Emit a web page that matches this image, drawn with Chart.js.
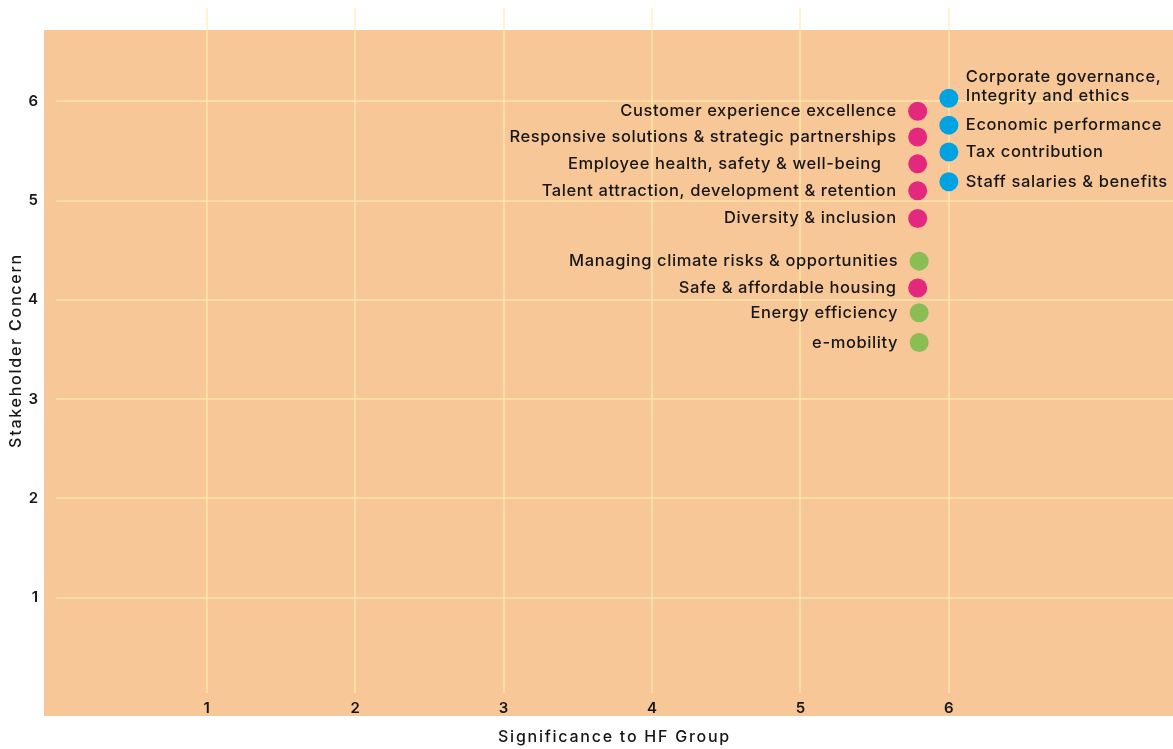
<!DOCTYPE html>
<html>
<head>
<meta charset="utf-8">
<script src="https://cdn.jsdelivr.net/npm/chart.js@4.4.0/dist/chart.umd.min.js"></script>
<style>
  html, body { margin: 0; padding: 0; background: #ffffff; }
  #wrap { width: 1173px; height: 749px; position: relative; }
</style>
</head>
<body>
<div id="wrap"><canvas id="c" width="1173" height="749"></canvas></div>
<script>
// ---- data ----
const socialLabels = [
  "Customer experience excellence",
  "Responsive solutions & strategic partnerships",
  "Employee health, safety & well-being   ",
  "Talent attraction, development & retention",
  "Diversity & inclusion",
  "Safe & affordable housing"
];
const socialX = [5.79, 5.79, 5.79, 5.79, 5.79, 5.79];
const socialY = [5.90, 5.64, 5.37, 5.10, 4.82, 4.12];

const envLabels = [
  "Managing climate risks & opportunities",
  "Energy efficiency",
  "e-mobility"
];
const envX = [5.80, 5.80, 5.80];
const envY = [4.39, 3.87, 3.57];

const govLabels = [
  ["Corporate governance,", "Integrity and ethics"],
  "Economic performance",
  "Tax contribution",
  "Staff salaries & benefits"
];
const govX = [6.0, 6.0, 6.0, 6.0];
const govY = [6.03, 5.76, 5.49, 5.19];

const tickValues = [1, 2, 3, 4, 5, 6];
const xTitle = "Significance to HF Group";
const yTitle = "Stakeholder Concern";

// ---- build ----
const toPts = (xs, ys) => xs.map((x, i) => ({ x: x, y: ys[i] }));
const FONT = "Inter, 'Open Sans', sans-serif";
const TEXT = "#161616";
const GRID = "rgba(255,236,170,0.6)";

const bgPlugin = {
  id: 'bg',
  beforeDraw(chart) {
    const { ctx, chartArea } = chart;
    ctx.save();
    ctx.fillStyle = "#F7C797";
    const x0 = chartArea.left - 12, y0 = chartArea.top + 22;
    ctx.fillRect(x0, y0, chart.width - x0, (chartArea.bottom + 23) - y0);
    ctx.restore();
  }
};

const labelPlugin = {
  id: 'pointLabels',
  afterDatasetsDraw(chart) {
    const { ctx, chartArea } = chart;
    ctx.save();
    ctx.font = "500 16.5px " + FONT;
    ctx.letterSpacing = "0.6px";
    ctx.fillStyle = TEXT;
    ctx.textBaseline = 'middle';
    chart.data.datasets.forEach((ds, di) => {
      const meta = chart.getDatasetMeta(di);
      meta.data.forEach((el, i) => {
        const lab = ds.pointText[i];
        if (ds.labelSide === 'left') {
          ctx.textAlign = 'right';
          ctx.fillText(lab, el.x - 21, el.y);
        } else {
          ctx.textAlign = 'left';
          if (Array.isArray(lab)) {
            const lh = 19;
            const base = el.y - 11.5 - (lab.length - 1) * lh / 2;
            lab.forEach((l, k) => ctx.fillText(l, el.x + 17, base + k * lh));
          } else {
            ctx.fillText(lab, el.x + 17, el.y);
          }
        }
      });
    });
    // axis titles
    ctx.font = "500 16px " + FONT;
    ctx.letterSpacing = "1.75px";
    ctx.textAlign = 'center';
    ctx.fillText(xTitle, (chartArea.left + chartArea.right) / 2, chart.height - 12);
    ctx.translate(16, (chartArea.top + chartArea.bottom) / 2);
    ctx.rotate(-Math.PI / 2);
    ctx.fillText(yTitle, 0, 0);
    ctx.restore();
  }
};

const keepTicks = (scale) => {
  scale.ticks = tickValues.map(v => ({ value: v }));
};

new Chart(document.getElementById('c'), {
  type: 'scatter',
  data: {
    datasets: [
      { data: toPts(socialX, socialY), pointText: socialLabels, labelSide: 'left',
        backgroundColor: '#E4287E', borderWidth: 0, pointRadius: 9.5, pointHoverRadius: 9.5 },
      { data: toPts(envX, envY), pointText: envLabels, labelSide: 'left',
        backgroundColor: '#8BBD55', borderWidth: 0, pointRadius: 9.5, pointHoverRadius: 9.5 },
      { data: toPts(govX, govY), pointText: govLabels, labelSide: 'right',
        backgroundColor: '#00A3E2', borderWidth: 0, pointRadius: 9.5, pointHoverRadius: 9.5 }
    ]
  },
  options: {
    responsive: false,
    animation: false,
    devicePixelRatio: 1,
    layout: { autoPadding: false, padding: { top: 8, right: 0, left: 0, bottom: 0 } },
    plugins: { legend: { display: false }, tooltip: { enabled: false } },
    scales: {
      x: {
        type: 'linear', min: -0.015, max: 7.51,
        afterBuildTicks: keepTicks,
        afterFit: (s) => { s.height = 56; s.paddingLeft = 0; s.paddingRight = 0; },
        grid: { color: GRID, lineWidth: 2, drawTicks: false },
        border: { display: false },
        ticks: { padding: 6, color: TEXT, font: { family: FONT, size: 15, weight: '600' }, maxRotation: 0 },
        title: { display: false }
      },
      y: {
        type: 'linear', min: 0.04, max: 6.94,
        afterBuildTicks: keepTicks,
        afterFit: (s) => { s.width = 56; s.paddingTop = 0; s.paddingBottom = 0; },
        grid: { color: GRID, lineWidth: 2, drawTicks: false },
        border: { display: false },
        ticks: { padding: 18, color: TEXT, font: { family: FONT, size: 15, weight: '600' } },
        title: { display: false }
      }
    }
  },
  plugins: [bgPlugin, labelPlugin]
});
</script>
</body>
</html>
